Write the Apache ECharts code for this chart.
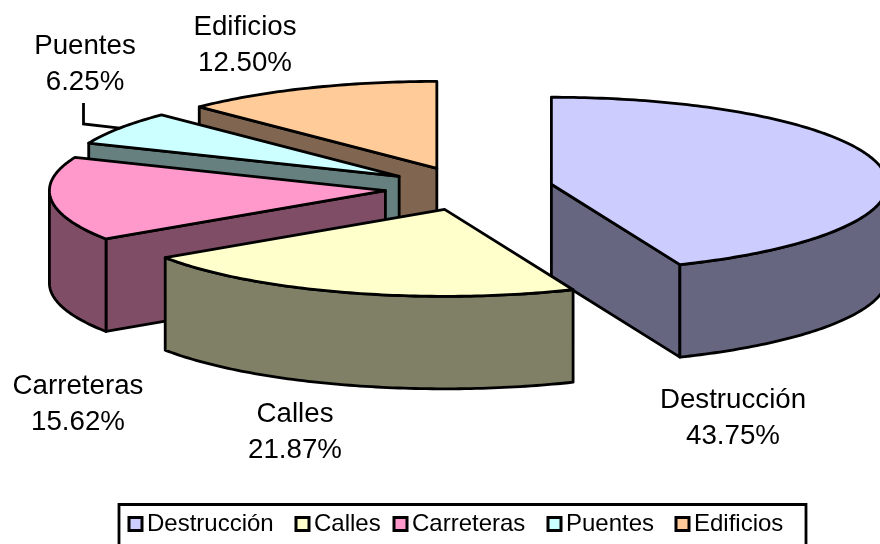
<!DOCTYPE html>
<html>
<head>
<meta charset="utf-8">
<style>html,body{margin:0;padding:0;background:#fff}#c{width:880px;height:544px}</style>
<script src="https://cdn.jsdelivr.net/npm/echarts@6/dist/echarts.min.js"></script>
</head>
<body>
<div id="c"></div>
<script>
var categories = ['Destrucción', 'Calles', 'Carreteras', 'Puentes', 'Edificios'];
var values = [43.75, 21.87, 15.62, 6.25, 12.50];
var topColors = ['#CCCCFF', '#FFFFCC', '#FF99CC', '#CCFFFF', '#FFCC99'];
var sideColors = ['#666680', '#808066', '#804D66', '#668080', '#806650'];
var drawOrder = [4, 3, 2, 0, 1];
var labelCenters = [[733, 398], [295, 412], [78, 384], [85, 44], [245, 25]];
var leaderElbows = [null, null, null, [[83.5, 103], [83.5, 124]], null];
var legendLefts = [127.5, 294.5, 392.5, 546.5, 674.5];

var CX = 469, CY = 188.5, RX = 336, RY = 87, DEPTH = 92.5, EXPLODE = 0.25, STROKE = 2.8, FONT = '"Liberation Sans", Arial, sans-serif';
var total = values.reduce(function (a, b) { return a + b; }, 0);
var startAngles = [];
values.reduce(function (acc, v, i) { startAngles[i] = acc; return acc + v / total * 2 * Math.PI; }, 0);

function renderSlice(params, api) {
  var i = api.value(0);
  var a0 = startAngles[i], a1 = a0 + api.value(1) / total * 2 * Math.PI, mid = (a0 + a1) / 2;
  var ax = CX + EXPLODE * RX * Math.sin(mid), ay = CY - EXPLODE * RY * Math.cos(mid);
  function pt(a, dz) { return [ax + RX * Math.sin(a), ay - RY * Math.cos(a) + (dz || 0)]; }
  function arc(from, to, dz) {
    var n = Math.max(2, Math.ceil(Math.abs(to - from) * 60)), out = [];
    for (var k = 0; k <= n; k++) out.push(pt(from + (to - from) * k / n, dz));
    return out;
  }
  var sideStyle = { fill: sideColors[i], stroke: '#000', lineWidth: STROKE, lineJoin: 'round' };
  var children = [];
  function face(a) {
    children.push({ type: 'polygon', shape: { points: [[ax, ay], pt(a), pt(a, DEPTH), [ax, ay + DEPTH]] }, style: sideStyle });
  }
  if (Math.sin(a0) < -1e-6) face(a0);
  if (Math.sin(a1) > 1e-6) face(a1);
  var w0 = Math.max(a0, Math.PI / 2), w1 = Math.min(a1, 1.5 * Math.PI);
  if (w1 > w0) {
    children.push({ type: 'polygon', shape: { points: arc(w0, w1, 0).concat(arc(w1, w0, DEPTH)) }, style: sideStyle });
  }
  children.push({ type: 'polygon', shape: { points: [[ax, ay]].concat(arc(a0, a1, 0)) },
    style: { fill: topColors[i], stroke: '#000', lineWidth: STROKE, lineJoin: 'round' } });
  if (leaderElbows[i]) {
    children.push({ type: 'polyline', shape: { points: leaderElbows[i].concat([pt(mid)]) },
      style: { fill: null, stroke: '#000', lineWidth: STROKE } });
  }
  children.push({ type: 'text', x: labelCenters[i][0], y: labelCenters[i][1] - 16, style: {
    text: categories[i] + '\n' + values[i].toFixed(2) + '%', fill: '#000', align: 'center', verticalAlign: 'top',
    font: '27.7px ' + FONT, lineHeight: 36 } });
  return { type: 'group', children: children };
}

var series = drawOrder.map(function (i) {
  return {
    type: 'custom', name: categories[i], coordinateSystem: 'none', silent: true, animation: false, clip: false,
    renderItem: renderSlice, data: [[i, values[i]]],
    itemStyle: { color: topColors[i], borderColor: '#000', borderWidth: 3 }
  };
});

var legends = categories.map(function (name, i) {
  return {
    data: [name], left: legendLefts[i], top: 512, orient: 'horizontal', icon: 'rect',
    itemWidth: 13, itemHeight: 13, padding: 0, selectedMode: false,
    itemStyle: { borderColor: '#000', borderWidth: 3 },
    textStyle: { color: '#000', fontFamily: FONT, fontSize: 24 }
  };
});

var chart = echarts.init(document.getElementById('c'), null, { renderer: 'canvas' });
chart.setOption({
  backgroundColor: '#fff',
  animation: false,
  legend: legends,
  graphic: [{
    type: 'rect', silent: true, z: -1,
    shape: { x: 119, y: 504.5, width: 687, height: 44 },
    style: { fill: '#fff', stroke: '#000', lineWidth: 2.8 }
  }],
  series: series
});
</script>
</body>
</html>
